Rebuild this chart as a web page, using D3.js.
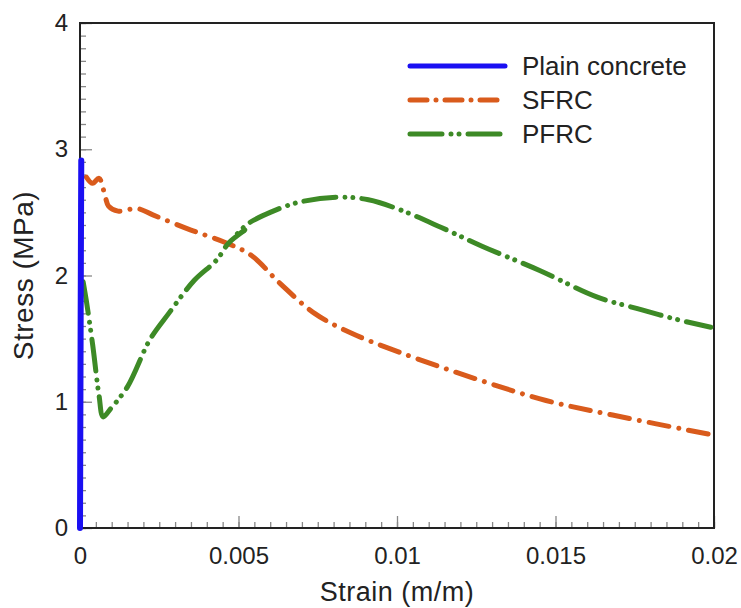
<!DOCTYPE html>
<html>
<head>
<meta charset="utf-8">
<script src="https://cdn.jsdelivr.net/npm/d3@7"></script>
<style>
  body { margin: 0; background: #fff; }
  text { font-family: "Liberation Sans", Arial, sans-serif; fill: #222; }
</style>
</head>
<body>
<script>
// stress-strain data
var plainStrain = [0, 0.00001, 0.00002, 0.00003, 0.00004];
var plainStress = [0, 0.8, 1.6, 2.3, 2.91];

var sfrcStrain = [0.0002, 0.0004, 0.0006, 0.0008, 0.0009, 0.0012, 0.0018, 0.0023, 0.0035, 0.0046, 0.0054, 0.0063, 0.0074, 0.0085, 0.0101, 0.0125, 0.0147, 0.0168, 0.0199];
var sfrcStress = [2.78, 2.73, 2.77, 2.62, 2.55, 2.51, 2.53, 2.48, 2.36, 2.26, 2.16, 1.94, 1.70, 1.55, 1.39, 1.18, 1.01, 0.895, 0.74];

var pfrcStrain = [0.0001, 0.0002, 0.0004, 0.0006, 0.00073, 0.00095, 0.0015, 0.0022, 0.0028, 0.0036, 0.0043, 0.0047, 0.0052, 0.0049, 0.0053, 0.006, 0.0069, 0.0081, 0.0091, 0.0101, 0.0114, 0.0127, 0.0145, 0.0163, 0.0177, 0.0187, 0.0199];
var pfrcStress = [1.95, 1.80, 1.45, 1.05, 0.88, 0.94, 1.12, 1.49, 1.70, 1.96, 2.12, 2.26, 2.36, 2.31, 2.41, 2.50, 2.58, 2.62, 2.60, 2.52, 2.38, 2.23, 2.04, 1.83, 1.73, 1.66, 1.59];

var xTicks = [0, 0.005, 0.01, 0.015, 0.02];
var xTickLabels = ["0", "0.005", "0.01", "0.015", "0.02"];
var yTicks = [0, 1, 2, 3, 4];

var seriesNames = ["Plain concrete", "SFRC", "PFRC"];
var seriesColors = ["#1a0ff2", "#d95b1c", "#3d8a26"];
var seriesDash = [null, "20,10,0.01,10", "32,9,0.01,8,0.01,9"];

var width = 741, height = 608;
var margin = {left: 80, top: 23, right: 27, bottom: 80};

var svg = d3.select("body").append("svg")
  .attr("width", width)
  .attr("height", height);

var x = d3.scaleLinear().domain([0, 0.02]).range([margin.left, width - margin.right]);
var y = d3.scaleLinear().domain([0, 4]).range([height - margin.bottom, margin.top]);

// minor ticks
var xMinor = d3.range(0, 0.02 + 1e-9, 0.0005);
var yMinor = d3.range(0, 4 + 1e-9, 0.1);

svg.append("g")
  .attr("transform", "translate(0," + y(0) + ")")
  .call(d3.axisBottom(x).tickValues(xMinor).tickSize(-6).tickFormat(""))
  .call(function(g){ g.select(".domain").remove(); g.selectAll("line").attr("stroke", "#888").attr("stroke-width", 1.3); });

svg.append("g")
  .attr("transform", "translate(" + x(0) + ",0)")
  .call(d3.axisLeft(y).tickValues(yMinor).tickSize(-6).tickFormat(""))
  .call(function(g){ g.select(".domain").remove(); g.selectAll("line").attr("stroke", "#888").attr("stroke-width", 1.3); });

// major ticks
svg.append("g")
  .attr("transform", "translate(0," + y(0) + ")")
  .call(d3.axisBottom(x).tickValues(xTicks).tickSize(-12).tickPadding(19)
    .tickFormat(function(d, i){ return xTickLabels[i]; }))
  .call(function(g){
    g.select(".domain").remove();
    g.selectAll("line").attr("stroke", "#888").attr("stroke-width", 1.3);
    g.selectAll("text").attr("font-size", 24).attr("font-family", null).attr("fill", "#222");
  });

svg.append("g")
  .attr("transform", "translate(" + x(0) + ",0)")
  .call(d3.axisLeft(y).tickValues(yTicks).tickSize(-12).tickPadding(12).tickFormat(d3.format("d")))
  .call(function(g){
    g.select(".domain").remove();
    g.selectAll("line").attr("stroke", "#888").attr("stroke-width", 1.3);
    g.selectAll("text").attr("font-size", 24).attr("font-family", null).attr("fill", "#222");
  });

// frame
svg.append("rect")
  .attr("x", x(0)).attr("y", y(4))
  .attr("width", x(0.02) - x(0)).attr("height", y(0) - y(4))
  .attr("fill", "none").attr("stroke", "#222").attr("stroke-width", 2);

// axis titles
svg.append("text")
  .attr("x", (x(0) + x(0.02)) / 2).attr("y", 601)
  .attr("text-anchor", "middle").attr("font-size", 27).attr("letter-spacing", 0.5)
  .text("Strain (m/m)");

svg.append("text")
  .attr("transform", "translate(33," + (y(2)) + ") rotate(-90)")
  .attr("text-anchor", "middle").attr("font-size", 28).attr("letter-spacing", 0.5)
  .text("Stress (MPa)");

// series
var line = d3.line()
  .x(function(d){ return x(d[0]); })
  .y(function(d){ return y(d[1]); })
  .curve(d3.curveCatmullRom.alpha(0.5));

var allSeries = [
  d3.zip(plainStrain, plainStress),
  d3.zip(sfrcStrain, sfrcStress),
  d3.zip(pfrcStrain, pfrcStress)
];

var plotG = svg.append("g");
// draw plain last so it sits on top at the y axis
[1, 2, 0].forEach(function(i){
  plotG.append("path")
    .datum(allSeries[i])
    .attr("d", line)
    .attr("fill", "none")
    .attr("stroke", seriesColors[i])
    .attr("stroke-width", i == 0 ? 6 : 5)
    .attr("stroke-linecap", "round")
    .attr("stroke-linejoin", "round")
    .attr("stroke-dasharray", seriesDash[i]);
});

// legend
var legend = svg.append("g").attr("transform", "translate(410,66)");
seriesNames.forEach(function(name, i){
  var row = legend.append("g").attr("transform", "translate(0," + (i * 34) + ")");
  row.append("line")
    .attr("x1", 0).attr("x2", 95).attr("y1", 0).attr("y2", 0)
    .attr("stroke", seriesColors[i])
    .attr("stroke-width", 5)
    .attr("stroke-linecap", "round")
    .attr("stroke-dasharray", i == 1 ? "17,9,0.01,9" : seriesDash[i]);
  row.append("text")
    .attr("x", 112).attr("y", 9)
    .attr("font-size", 26)
    .text(name);
});
</script>
</body>
</html>
